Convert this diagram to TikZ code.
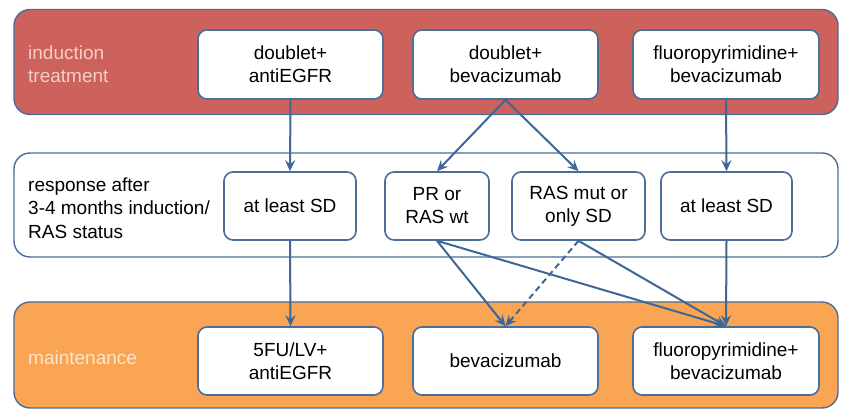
\documentclass[tikz,border=0pt]{standalone}
\usepackage{fontspec}
\setmainfont{Liberation Sans}
\usetikzlibrary{arrows.meta}
\definecolor{bandred}{HTML}{CD625C}
\definecolor{bandorange}{HTML}{F9A553}
\definecolor{edgeblue}{HTML}{4A6E98}
\definecolor{linkblue}{HTML}{3D6797}
\definecolor{redtext}{HTML}{F3CEC9}
\definecolor{orangetext}{HTML}{FDE6CC}
\begin{document}
\begin{tikzpicture}[x=1pt,y=-1pt,
  band/.style={draw=edgeblue,line width=1.4pt,rounded corners=16pt,minimum width=824pt,minimum height=105pt,inner sep=0pt},
  box/.style={draw=edgeblue,line width=1.6pt,fill=white,rounded corners=9pt,minimum height=69pt,inner sep=2pt,align=center,font=\fontsize{19}{23}\selectfont},
  lab/.style={anchor=west,align=left,inner sep=0pt,font=\fontsize{19}{23.5}\selectfont},
  link/.style={draw=linkblue,line width=2pt,-{Stealth[length=11pt,width=10pt,inset=4pt]}}]
\useasboundingbox (0,0) rectangle (841,411);
\fill[white] (0,0) rectangle (841,411);
% bands
\node[band,fill=bandred] (bandA) at (426,62) {};
\node[band,fill=white,minimum height=104pt] (bandB) at (426,205) {};
\node[band,fill=bandorange,minimum height=106pt] (bandC) at (426,355) {};
% band labels
\node[lab,text=redtext] (labA) at (28,64) {induction\\treatment};
\node[lab,text=black] (labB) at (28,208) {response after\\3-4 months induction/\\RAS status};
\node[lab,text=orangetext] (labC) at (28,358) {maintenance};
% top boxes
\node[box,minimum width=185pt] (a1) at (290.5,64.5) {doublet+\\antiEGFR};
\node[box,minimum width=185pt] (a2) at (505.5,64.5) {doublet+\\bevacizumab};
\node[box,minimum width=186pt] (a3) at (726,64.5) {fluoropyrimidine+\\bevacizumab};
% middle boxes
\node[box,minimum width=132pt,minimum height=68pt] (m1) at (290,206) {at least SD};
\node[box,minimum width=104pt,minimum height=68pt] (m2) at (437,206) {PR or\\RAS wt};
\node[box,minimum width=133pt,minimum height=68pt] (m3) at (578.5,206) {RAS mut or\\only SD};
\node[box,minimum width=131pt,minimum height=68pt] (m4) at (726.5,206) {at least SD};
% bottom boxes
\node[box,minimum width=185pt,minimum height=68pt] (c1) at (290.5,361) {5FU/LV+\\antiEGFR};
\node[box,minimum width=185pt,minimum height=68pt] (c2) at (505.5,361) {bevacizumab};
\node[box,minimum width=186pt,minimum height=68pt] (c3) at (726,361) {fluoropyrimidine+\\bevacizumab};
% connectors
\draw[link] (a1.south) -- (m1.north);
\draw[link] (a2.south) -- (m2.north);
\draw[link] (a2.south) -- (m3.north);
\draw[link] (a3.south) -- (m4.north);
\draw[link] (m1.south) -- (c1.north);
\draw[link] (m2.south) -- (c2.north);
\draw[link] (m2.south) -- (c3.north);
\draw[link,dashed,dash pattern=on 6pt off 4pt] (m3.south) -- (c2.north);
\draw[link] (m3.south) -- (c3.north);
\draw[link] (m4.south) -- (c3.north);
\end{tikzpicture}
\end{document}
